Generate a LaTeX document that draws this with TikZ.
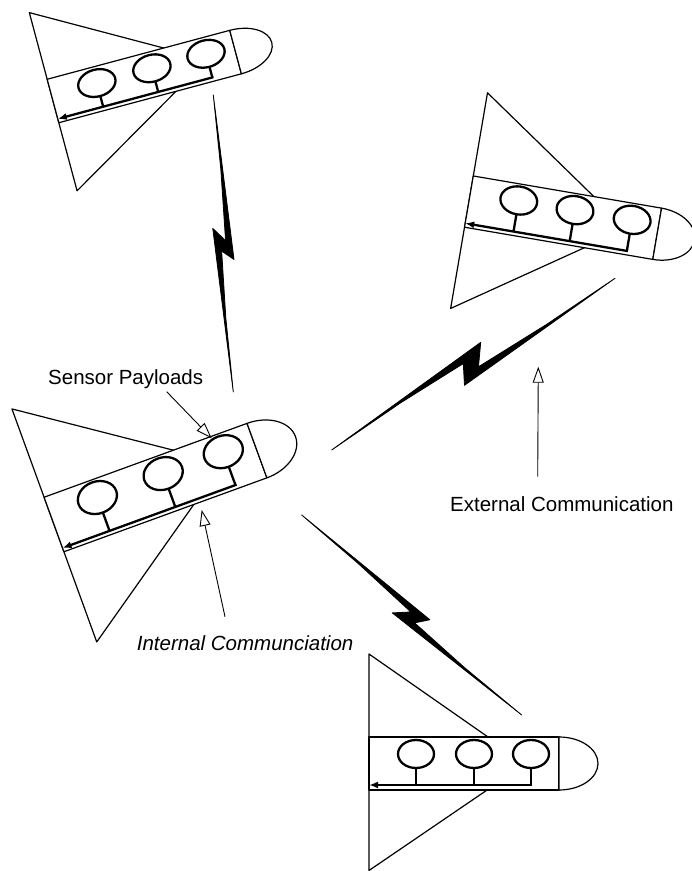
\documentclass[tikz,border=0pt]{standalone}
\usepackage{fontspec}
\setmainfont{Liberation Sans}
\usetikzlibrary{arrows.meta,calc}

\tikzset{
  hullline/.style={line width=1.2pt, line join=round},
  podline/.style={line width=2.3pt},
  busline/.style={line width=2.3pt, -{Latex[length=9pt,width=7pt]}},
  callout/.style={line width=0.9pt, -{Triangle[open,length=16pt,width=11pt,fill=white]}},
  boltfill/.style={fill=black, draw=black, line width=0.8pt, line join=round},
  caption/.style={inner sep=0pt, font=\fontsize{20.5}{24}\selectfont},
}

% parameters of one delta-wing craft, in its own frame (x along the fuselage)
\pgfkeys{/craft/.cd,
  len/.store in=\cLen, half/.store in=\cHalf, nose/.store in=\cNose,
  top/.store in=\cTop, bot/.store in=\cBot, apex/.store in=\cApex,
  oy/.store in=\cOy, rx/.store in=\cRx, ry/.store in=\cRy,
  bus/.store in=\cBus, pods/.store in=\cPods, last/.store in=\cLast}

\newcommand\craft[1]{%
  \pgfkeys{/craft/.cd,#1}%
  % delta wing
  \draw[hullline] (0,\cTop) -- (\cApex,0) -- (0,\cBot) -- cycle;
  % fuselage and nose cone
  \filldraw[hullline,fill=white] (0,-\cHalf) rectangle (\cLen,\cHalf);
  \filldraw[hullline,fill=white] (\cLen,\cHalf)
     arc[start angle=90,end angle=-90,x radius=\cNose,y radius=\cHalf] -- cycle;
  % sensor pods on their stems
  \foreach \p in \cPods {
    \draw[podline] (\p,\cOy) ellipse[x radius=\cRx,y radius=\cRy];
    \draw[podline] (\p,\cOy-\cRy) -- (\p,\cBus);
  }
  % internal data bus running aft
  \draw[busline] (\cLast,\cBus+1) -- (\cLast,\cBus) -- (0,\cBus);
}

% lightning-bolt link: ends #1,#2; side offsets #3,#4 of the two tips; flare width #5
\newcommand\zap[5]{%
  \pgfmathsetmacro\zIA{-0.859*#4+#5}%
  \pgfmathsetmacro\zMB{-0.452*#4+0.30*#5}%
  \pgfmathsetmacro\zID{0.883*#3-#5}%
  \pgfmathsetmacro\zMA{0.45*#3-0.30*#5}%
  \path ($(#1)!0.556!(#2)$) coordinate (zA)
        ($(#1)!0.525!(#2)$) coordinate (zB)
        ($(#1)!0.75!(#2)$)  coordinate (zM2)
        ($(#1)!0.447!(#2)$) coordinate (zC)
        ($(#1)!0.491!(#2)$) coordinate (zD)
        ($(#1)!0.25!(#2)$)  coordinate (zM1);
  \filldraw[boltfill] (#1) -- ($(zA)!#3pt!90:(#2)$) -- ($(zB)!\zIA pt!90:(#2)$)
     -- ($(zM2)!\zMB pt!90:(#2)$) -- (#2) -- ($(zC)!-#4pt!90:(#2)$)
     -- ($(zD)!\zID pt!90:(#2)$) -- ($(zM1)!\zMA pt!90:(#2)$) -- cycle;
}

\begin{document}
\begin{tikzpicture}[x=1pt,y=1pt]
\useasboundingbox (0,0) rectangle (692,871);

% upper left craft
\begin{scope}[shift={(53,770)},rotate=15]
  \craft{len=189,half=22.5,nose=37.5,top=91.5,bot=-93,apex=160,
         oy=6,rx=19,ry=13.5,bus=-18.5,pods={47,104,160},last=160}
\end{scope}

% right craft
\begin{scope}[shift={(468.9,669.4)},rotate=-9.7]
  \craft{len=191,half=26,nose=38,top=110.4,bot=-108.4,apex=160,
         oy=9.5,rx=18.5,ry=14,bus=-22,pods={49,106,164},last=164}
\end{scope}

% central craft
\begin{scope}[shift={(54,346.5)},rotate=20]
  \craft{len=216,half=29,nose=41,top=123,bot=-125,apex=180,
         oy=10.5,rx=20,ry=16,bus=-25,pods={50,120,184},last=184}
\end{scope}

% lower craft
\begin{scope}[shift={(369,107.5)}]
  \craft{len=190,half=26.5,nose=39,top=109.5,bot=-107,apex=157,
         oy=9.5,rx=18,ry=14,bus=-21.5,pods={47,105,162},last=162}
\end{scope}

% communication links
\coordinate (up-a) at (213.3,776);
\coordinate (up-b) at (233.3,479);
\zap{up-a}{up-b}{9.6}{9.5}{6}

\coordinate (rt-a) at (615,592.7);
\coordinate (rt-b) at (331.7,421);
\zap{rt-a}{rt-b}{13.5}{14.8}{7}

\coordinate (lo-a) at (301.7,356);
\coordinate (lo-b) at (521.7,156);
\zap{lo-a}{lo-b}{8.7}{11.5}{6}

% captions
\node[caption, anchor=base west] (sensors) at (48,486) {Sensor Payloads};
\node[caption, anchor=base west] (external) at (450,359.3) {External Communication};
\node[caption, anchor=base west, font=\fontsize{20.5}{24}\selectfont\itshape]
  (internal) at (136.7,220) {Internal Communciation};

% caption pointers
\coordinate (sp-from) at (166.7,479.3);
\coordinate (sp-to) at (211.7,432.7);
\draw[callout] (sp-from) -- (sp-to);

\coordinate (ic-from) at (225,254.3);
\coordinate (ic-to) at (201.7,361);
\draw[callout] (ic-from) -- (ic-to);

\coordinate (ec-from) at (537.7,394.3);
\coordinate (ec-to) at (538.3,504.3);
\draw[callout] (ec-from) -- (ec-to);
\end{tikzpicture}
\end{document}
